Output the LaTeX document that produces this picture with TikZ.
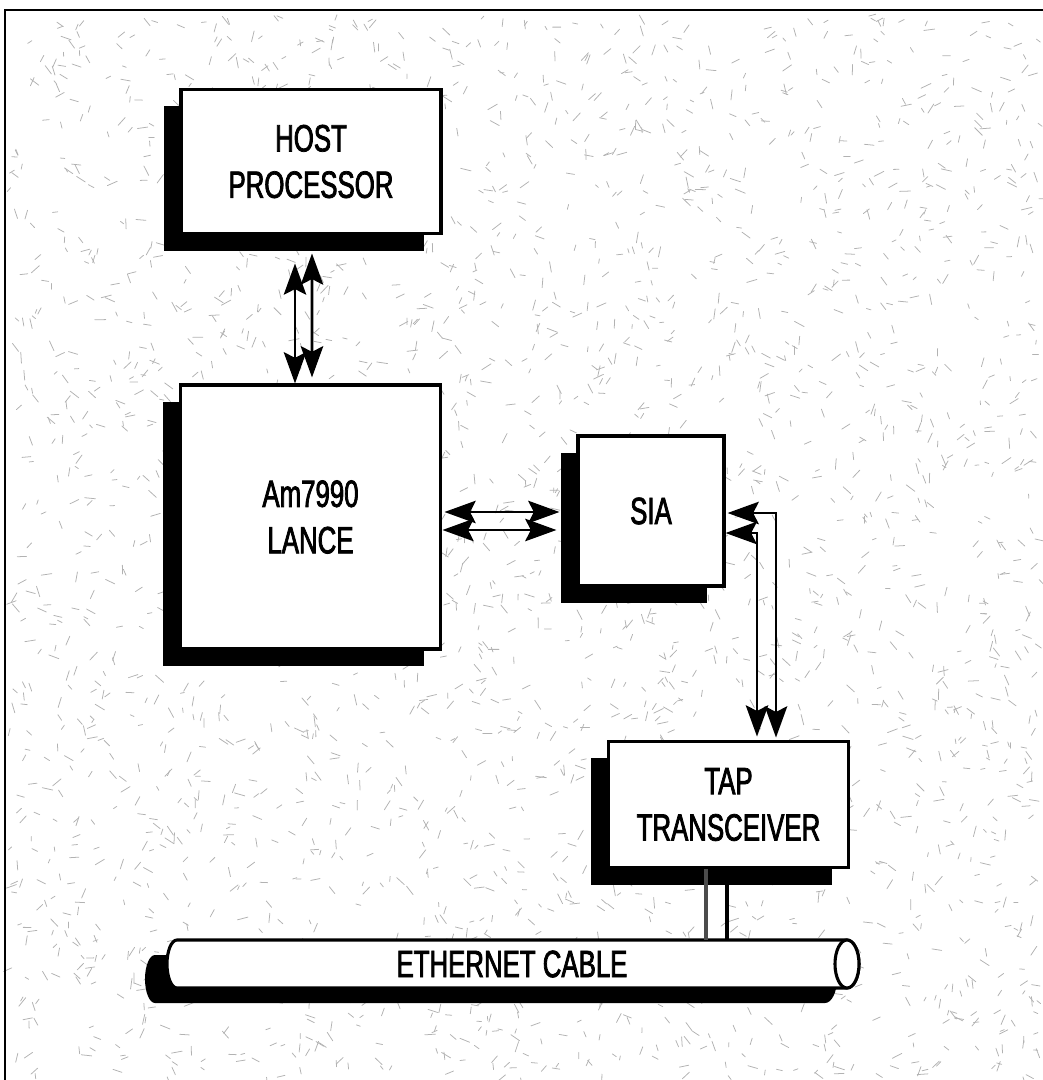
\documentclass[tikz,border=0pt]{standalone}
\usepackage{fontspec}
\setmainfont{Liberation Sans}[FakeStretch=0.68, FakeBold=2]
\usetikzlibrary{arrows.meta,calc,shadows}

\begin{document}
\begin{tikzpicture}[
  x=0.025cm, y=-0.025cm,
  font=\fontsize{27}{33}\selectfont,
  sharp/.tip={Stealth[length=0.78cm, width=0.56cm, inset=0.14cm]},
  block/.style={draw, line width=2.2pt, fill=white, inner sep=0pt, align=center,
    drop shadow={shadow xshift=-0.43cm, shadow yshift=-0.42cm, fill=black, opacity=1}},
  cabletext/.style={inner sep=0pt, minimum width=17cm, minimum height=1.2cm},
  cablebody/.style={draw, line width=2.2pt, fill=white},
  biarrow/.style={sharp-sharp, line width=1.8pt},
  tapline/.style={line width=2.2pt},
  speck/.style={gray!60, line width=0.55pt, line cap=round},
  frameline/.style={line width=1.5pt}
]
\useasboundingbox (0,0) rectangle (1043,1080);

% Speckled background
\pgfmathsetseed{4242}
\foreach \k in {1,...,2800} {
  \pgfmathsetmacro\sx{10+rnd*1030}
  \pgfmathsetmacro\sy{14+rnd*1064}
  \pgfmathsetmacro\sa{rnd*180}
  \pgfmathsetmacro\sl{4+rnd*7}
  \draw[speck] (\sx,\sy) -- ++(\sa:\sl);
}

% Frame (top and left edges)
\draw[frameline] (1043,10) -- (5,10) -- (5,1080);

% Blocks
\node[block, minimum width=6.5cm, minimum height=3.62cm] (host) at (311,161.5) {HOST\\PROCESSOR};
\node[block, minimum width=6.52cm, minimum height=6.6cm] (lance) at (310.5,517) {Am7990\\LANCE};
\node[block, minimum width=3.65cm, minimum height=3.75cm] (sia) at (651,511) {SIA};
\node[block, minimum width=6.02cm, minimum height=3.17cm] (tap) at (728.5,804.5) {TAP\\TRANSCEIVER};

% Ethernet cable: shadow, tube, open end
\fill[shift={(-22,15)}] (847,940) -- (177,940) arc[start angle=270, end angle=90, x radius=10, y radius=24]
  -- (847,988) arc[start angle=90, end angle=-90, x radius=12, y radius=24] -- cycle;
\draw[cablebody] (847,940) -- (177,940) arc[start angle=270, end angle=90, x radius=10, y radius=24]
  -- (847,988) arc[start angle=90, end angle=-90, x radius=12, y radius=24] -- cycle;
\draw[cablebody] (847,964) ellipse[x radius=12, y radius=24];
\node[cabletext] (cable) at (512,964) {ETHERNET CABLE};

% Host <-> LANCE
\draw[biarrow] ($(lance.north)+(-15.5,0)$) -- ($(host.south)+(-16,28)$);
\draw[biarrow] ($(lance.north)+(1.5,-6)$) -- ($(host.south)+(1,18)$);

% LANCE <-> SIA
\draw[biarrow] ($(lance.east)+(2,-5)$) -- ($(sia.west)+(-17,1)$);
\draw[biarrow] ($(lance.east)+(0,13)$) -- ($(sia.west)+(-20,19)$);

% SIA <-> TAP
\draw[biarrow] ($(sia.east)+(2,2)$) -| ($(tap.north)+(47.5,-2)$);
\draw[biarrow] ($(sia.east)+(0,22)$) -| ($(tap.north)+(28.5,-3)$);

% TAP to cable
\draw[tapline, black!70] ($(tap.south)+(-22.5,0)$) -- ($(tap.south |- cable.north)+(-22.5,0)$);
\draw[tapline] ($(tap.south)+(-1.5,0)$) -- ($(tap.south |- cable.north)+(-1.5,0)$);

\end{tikzpicture}
\end{document}
